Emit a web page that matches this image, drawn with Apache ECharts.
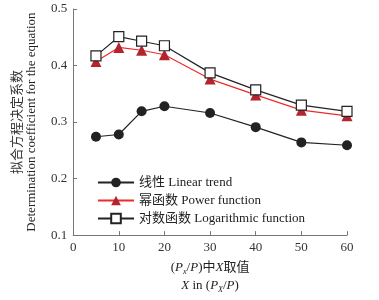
<!DOCTYPE html>
<html>
<head>
<meta charset="utf-8">
<script src="https://cdn.jsdelivr.net/npm/echarts@6/dist/echarts.min.js"></script>
<style>
  html, body { margin: 0; padding: 0; background: #fff; }
  #chart { width: 379px; height: 300px; }
</style>
</head>
<body>
<div id="chart"></div>
<script>
// X 取值
const xValues = [5, 10, 15, 20, 30, 40, 50, 60]
// 线性
const linearTrend = [0.274, 0.278, 0.319, 0.328, 0.316, 0.291, 0.264, 0.259]
// 幂函数
const powerFunction = [0.407, 0.432, 0.427, 0.419, 0.376, 0.348, 0.321, 0.311]
// 对数函数
const logFunction = [0.417, 0.451, 0.443, 0.435, 0.387, 0.357, 0.330, 0.319]

const serif = '"Liberation Serif", "Noto Sans CJK SC", serif'
const pair = arr => xValues.map((x, i) => [x, arr[i]])

const chart = echarts.init(document.getElementById('chart'))

const option = {
  backgroundColor: '#fff',
  animation: false,
  grid: {left: 70, right: 32, top: 9, bottom: 58},
  legend: {
    orient: 'vertical',
    left: 92,
    top: 171,
    itemWidth: 36,
    itemHeight: 12,
    itemGap: 5,
    textStyle: {fontFamily: serif, fontSize: 13, color: '#222'},
    data: ['线性 Linear trend', '幂函数 Power function', '对数函数 Logarithmic function'],
  },
  xAxis: {
    type: 'value',
    min: 0,
    max: 60,
    interval: 10,
    axisLine: {onZero: false, lineStyle: {color: '#777'}},
    axisTick: {inside: true, length: 4, lineStyle: {color: '#777'}},
    splitLine: {show: false},
    axisLabel: {fontFamily: serif, fontSize: 13, color: '#333', margin: 6},
    nameLocation: 'middle',
    nameGap: 22,
    name: '{t|(}{i|P}{s|x}{t|/}{i|P}{t|)中}{i|X}{t|取值}\n{i|X}{t| in (}{i|P}{s|X}{t|/}{i|P}{t|)}',
    nameTextStyle: {
      fontFamily: serif,
      color: '#222',
      lineHeight: 18,
      rich: {
        t: {fontFamily: serif, fontSize: 13, color: '#222'},
        i: {fontFamily: serif, fontSize: 13, fontStyle: 'italic', color: '#222'},
        s: {fontFamily: serif, fontSize: 8, fontStyle: 'italic', color: '#222', padding: [8, 0, 0, 0]},
      },
    },
  },
  yAxis: {
    type: 'value',
    min: 0.1,
    max: 0.5,
    interval: 0.1,
    axisLine: {show: true, lineStyle: {color: '#777'}},
    axisTick: {show: true, inside: true, length: 4, lineStyle: {color: '#777'}},
    splitLine: {show: false},
    axisLabel: {fontFamily: serif, fontSize: 13, color: '#333', margin: 6,
      formatter: v => v.toFixed(1)},
    name: '{c|拟合方程决定系数}\n{e|Determination coefficient for the equation}',
    nameLocation: 'middle',
    nameRotate: 90,
    nameGap: 33,
    nameTextStyle: {
      fontFamily: serif,
      color: '#222',
      lineHeight: 16,
      rich: {
        c: {fontFamily: '"Noto Sans CJK SC", sans-serif', fontSize: 13, color: '#333', lineHeight: 16},
        e: {fontFamily: serif, fontSize: 13, color: '#222', lineHeight: 16},
      },
    },
  },
  series: [
    {
      name: '线性 Linear trend',
      type: 'line',
      data: pair(linearTrend),
      symbol: 'circle',
      symbolSize: 10,
      color: '#222',
      lineStyle: {color: '#222', width: 1.2},
      itemStyle: {color: '#222'},
    },
    {
      name: '幂函数 Power function',
      type: 'line',
      data: pair(powerFunction),
      symbol: 'triangle',
      symbolSize: 11,
      color: '#b3242c',
      lineStyle: {color: '#ee2b2b', width: 1.2},
      itemStyle: {color: '#b3242c'},
    },
    {
      name: '对数函数 Logarithmic function',
      type: 'line',
      data: pair(logFunction),
      symbol: 'rect',
      symbolSize: 10,
      color: '#222',
      lineStyle: {color: '#222', width: 1.2},
      itemStyle: {color: '#fff', borderColor: '#222', borderWidth: 1.2},
    },
  ],
}

chart.setOption(option)
window.addEventListener('resize', () => chart.resize())
</script>
</body>
</html>
